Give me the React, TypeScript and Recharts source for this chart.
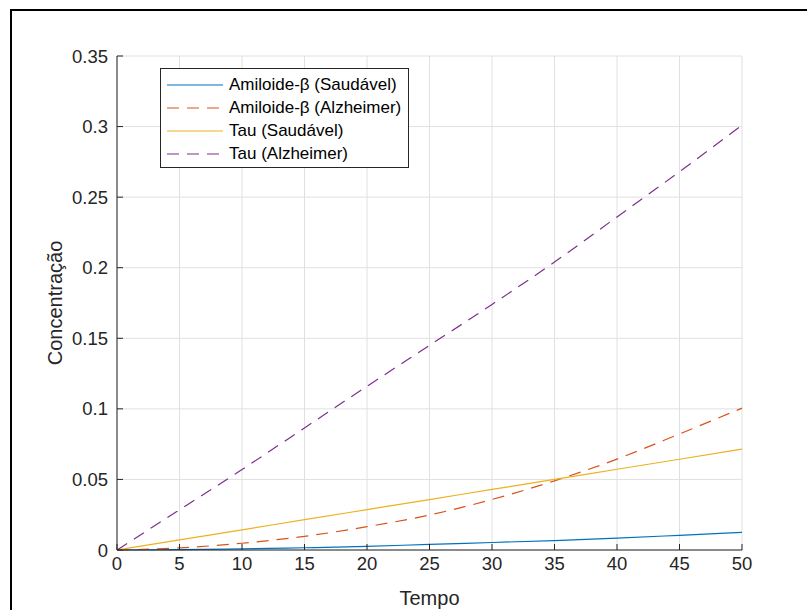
import { LineChart, Line, XAxis, YAxis, CartesianGrid, Legend, Label } from "recharts";

const tempo = [0, 5, 10, 15, 20, 25, 30, 35, 40, 45, 50];
const amiloideSaudavel = [0, 0.0002, 0.0008, 0.0016, 0.0025, 0.004, 0.0053, 0.0067, 0.0084, 0.0104, 0.0125];
const amiloideAlzheimer = [0, 0.0015, 0.0048, 0.0097, 0.0165, 0.0248, 0.0358, 0.049, 0.0644, 0.0822, 0.1005];
const tauSaudavel = [0, 0.0072, 0.0143, 0.0215, 0.0286, 0.0357, 0.0429, 0.05, 0.0572, 0.0643, 0.0715];
const tauAlzheimer = [0, 0.0285, 0.057, 0.0865, 0.116, 0.145, 0.174, 0.204, 0.236, 0.268, 0.301];

const xTicks = [0, 5, 10, 15, 20, 25, 30, 35, 40, 45, 50];
const yTicks = [0, 0.05, 0.1, 0.15, 0.2, 0.25, 0.3, 0.35];

const series = [
  { key: "abSaudavel", name: "Amiloide-β (Saudável)", color: "#0072BD", dash: undefined },
  { key: "abAlzheimer", name: "Amiloide-β (Alzheimer)", color: "#D95319", dash: "12 8" },
  { key: "tauSaudavel", name: "Tau (Saudável)", color: "#EDB120", dash: undefined },
  { key: "tauAlzheimer", name: "Tau (Alzheimer)", color: "#7E2F8E", dash: "12 8" },
];

const data = tempo.map((t, i) => ({
  t,
  abSaudavel: amiloideSaudavel[i],
  abAlzheimer: amiloideAlzheimer[i],
  tauSaudavel: tauSaudavel[i],
  tauAlzheimer: tauAlzheimer[i],
}));

const font = "'Liberation Sans', Arial, sans-serif";
const ink = "#262626";

function LegendBox() {
  return (
    <div
      style={{
        boxSizing: "border-box",
        width: 249,
        height: 100,
        border: `1px solid ${ink}`,
        background: "#fff",
        paddingTop: 4,
        fontFamily: font,
        fontSize: 17,
        color: "#000",
      }}
    >
      {series.map((s) => (
        <div key={s.key} style={{ display: "flex", alignItems: "center", height: 23 }}>
          <svg width={68} height={10} style={{ flex: "none" }}>
            <line x1={6} x2={62} y1={5} y2={5} stroke={s.color} strokeWidth={1.2} strokeDasharray={s.dash} />
          </svg>
          <span style={{ whiteSpace: "nowrap" }}>{s.name}</span>
        </div>
      ))}
    </div>
  );
}

export default function App() {
  return (
    <div style={{ position: "absolute", left: 0, top: 0, width: 807, height: 610, background: "#fff", overflow: "hidden" }}>
      <div
        style={{
          position: "absolute",
          left: 10,
          top: 9,
          width: 797,
          height: 601,
          boxSizing: "border-box",
          borderTop: "2px solid #000",
          borderLeft: "2px solid #000",
        }}
      />
      <LineChart width={807} height={610} data={data} margin={{ top: 56, right: 65, bottom: 0, left: 0 }}>
        <CartesianGrid stroke="#e0e0e0" />
        <XAxis
          dataKey="t"
          type="number"
          domain={[0, 50]}
          ticks={xTicks}
          height={60}
          tickSize={-6}
          tickMargin={13}
          axisLine={{ stroke: ink }}
          tickLine={{ stroke: ink }}
          tick={{ fill: ink, fontSize: 18.5, fontFamily: font }}
        >
          <Label
            content={() => (
              <text x={429.5} y={605} textAnchor="middle" fill={ink} fontSize={20} fontFamily={font}>
                Tempo
              </text>
            )}
          />
        </XAxis>
        <XAxis
          xAxisId="top"
          orientation="top"
          dataKey="t"
          type="number"
          domain={[0, 50]}
          ticks={xTicks}
          height={0}
          tickSize={-6}
          tick={false}
          axisLine={{ stroke: ink }}
          tickLine={{ stroke: ink }}
        >
          <Label
            content={() => (
              <text x={429.5} y={48} textAnchor="middle" fill="#000" fontSize={20.5} fontWeight="bold" fontFamily={font}>
                Comparação da Dinâmica de Amiloide-β e Tau
              </text>
            )}
          />
        </XAxis>
        <YAxis
          type="number"
          domain={[0, 0.35]}
          ticks={yTicks}
          width={117}
          tickSize={-6}
          tickMargin={15}
          axisLine={{ stroke: ink }}
          tickLine={{ stroke: ink }}
          tick={{ fill: ink, fontSize: 18.5, fontFamily: font }}
        >
          <Label
            content={() => (
              <text
                x={55}
                y={303}
                textAnchor="middle"
                dominantBaseline="central"
                transform="rotate(-90, 55, 303)"
                fill={ink}
                fontSize={20}
                fontFamily={font}
              >
                Concentração
              </text>
            )}
          />
        </YAxis>
        <YAxis
          yAxisId="right"
          orientation="right"
          type="number"
          domain={[0, 0.35]}
          ticks={yTicks}
          width={0}
          tickSize={-6}
          tick={false}
          axisLine={{ stroke: ink }}
          tickLine={{ stroke: ink }}
        />
        <Legend
          layout="vertical"
          align="center"
          verticalAlign="middle"
          wrapperStyle={{ left: 160, top: 68, width: 249, height: 100 }}
          content={() => <LegendBox />}
        />
        {series.map((s) => (
          <Line
            key={s.key}
            dataKey={s.key}
            name={s.name}
            type="monotone"
            stroke={s.color}
            strokeWidth={1.2}
            strokeDasharray={s.dash}
            dot={false}
            activeDot={false}
            isAnimationActive={false}
          />
        ))}
      </LineChart>
    </div>
  );
}
